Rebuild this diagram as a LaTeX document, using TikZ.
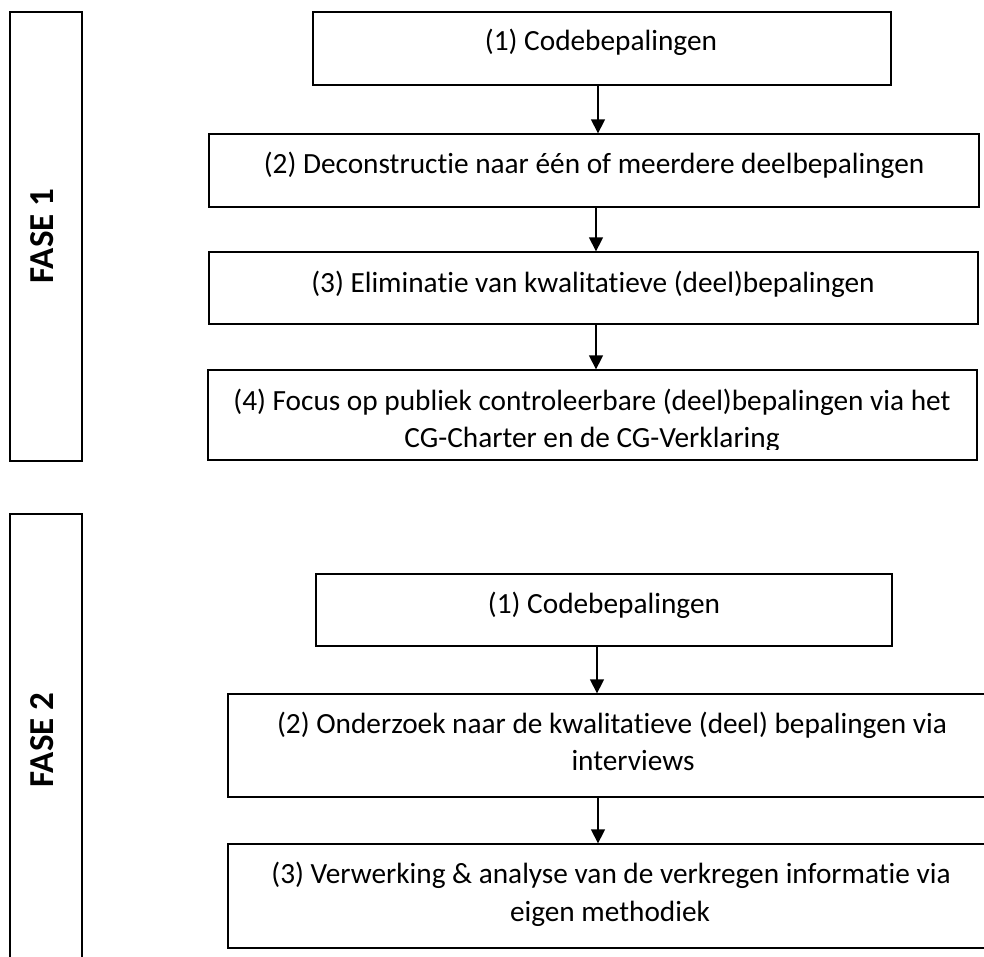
\documentclass[tikz,border=0pt]{standalone}
\usepackage{fontspec}
\setmainfont{Carlito}[Ligatures=CommonOff]
\usetikzlibrary{arrows.meta}
\begin{document}
\begin{tikzpicture}[x=1pt,y=-1pt,
  box/.style 2 args={draw, line width=1.3pt, rectangle, inner sep=0pt, minimum width=#1pt, minimum height=#2pt},
  txt/.style={font=\fontsize{29.3}{37}\selectfont, inner sep=0pt, anchor=base},
  fase/.style={font=\fontsize{35}{40}\selectfont\bfseries, inner sep=0pt, rotate=90},
  arr/.style={line width=1.3pt, -{Triangle[width=14pt,length=14pt]}}
]
\useasboundingbox (0,0) rectangle (984,956);
\clip (0,0) rectangle (984,956);

% FASE 1
\node[box={72}{449}] (f1) at (46,236.5) {};
\node[fase] (f1t) at (42,236) {FASE 1};

\node[box={578}{73}] (b1) at (602,48.5) {};
\node[txt] (b1t) at (601,50) {(1) Codebepalingen};

\node[box={770}{73}] (b2) at (594,170.5) {};
\node[txt] (b2t) at (594,173) {(2) Deconstructie naar één of meerdere deelbepalingen};

\node[box={769}{72}] (b3) at (593.5,288) {};
\node[txt] (b3t) at (593,292) {(3) Eliminatie van kwalitatieve (deel)bepalingen};

\node[box={769}{90}] (b4) at (592.5,415) {};
\begin{scope}
  \clip (200,360) rectangle (990,449);
  \node[txt] (b4t1) at (592,410) {(4) Focus op publiek controleerbare (deel)bepalingen via het};
  \node[txt] (b4t2) at (592,447) {CG-Charter en de CG-Verklaring};
\end{scope}

\draw[arr] ([xshift=-4pt]b1.south) -- ([xshift=-4pt]b1.south |- b2.north);
\draw[arr] ([xshift=2pt]b2.south) -- ([xshift=2pt]b2.south |- b3.north);
\draw[arr] ([xshift=2.5pt]b3.south) -- ([xshift=2.5pt]b3.south |- b4.north);

% FASE 2
\node[box={72}{452}] (f2) at (46,740) {};
\node[fase] (f2t) at (42,740) {FASE 2};

\node[box={576}{72}] (c1) at (604,610) {};
\node[txt] (c1t) at (604,613) {(1) Codebepalingen};

\node[box={768}{103}] (c2) at (612,745.5) {};
\node[txt] (c2t1) at (612,733) {(2) Onderzoek naar de kwalitatieve (deel) bepalingen via};
\node[txt] (c2t2) at (633,770) {interviews};

\node[box={768}{104}] (c3) at (612,896) {};
\node[txt] (c3t1) at (611,883) {(3) Verwerking \& analyse van de verkregen informatie via};
\node[txt] (c3t2) at (610,921) {eigen methodiek};

\draw[arr] ([xshift=-7pt]c1.south) -- ([xshift=-7pt]c1.south |- c2.north);
\draw[arr] ([xshift=-14pt]c2.south) -- ([xshift=-14pt]c2.south |- c3.north);
\end{tikzpicture}
\end{document}
